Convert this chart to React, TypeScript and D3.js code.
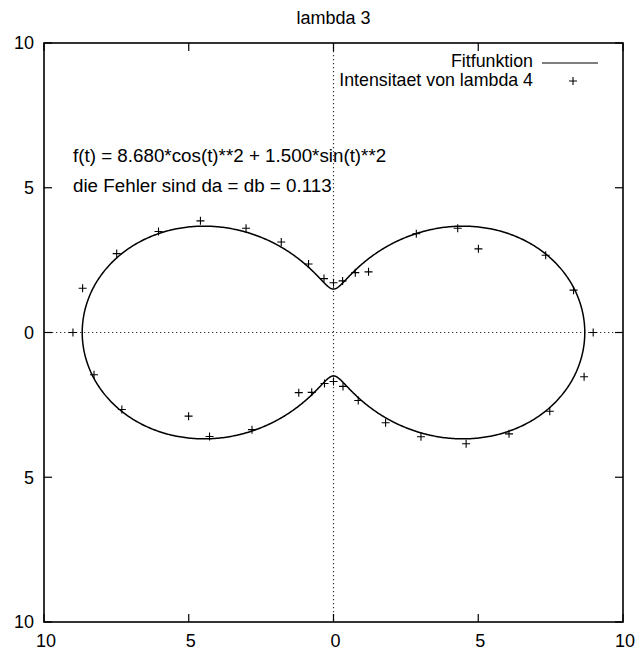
import React from "react";
import * as d3 from "d3";

const title = "lambda 3";
const angleDeg = [
  0, 10, 20, 30, 40, 50, 60, 70, 80, 90, 100, 110, 120, 130, 140, 150, 160, 170,
  180, 190, 200, 210, 220, 230, 240, 250, 260, 270, 280, 290, 300, 310, 320, 330, 340, 350,
];
const radius = [
  8.97, 8.42, 7.8, 5.78, 5.6, 4.45, 2.42, 2.2, 1.81, 1.72, 1.89, 2.52, 3.61, 4.7, 6.0, 6.98, 7.97, 8.8,
  9.0, 8.4, 7.78, 5.78, 5.59, 4.38, 2.4, 2.2, 1.79, 1.69, 1.89, 2.5, 3.6, 4.7, 5.98, 7.0, 7.95, 8.79,
];
const fitA = 8.68;
const fitB = 1.5;
const tickValues = [-10, -5, 0, 5, 10];
const legendLabels = ["Fitfunktion", "Intensitaet von lambda 4"];
const annotations = [
  "f(t) = 8.680*cos(t)**2 + 1.500*sin(t)**2",
  "die Fehler sind da = db = 0.113",
];

export default function App() {
  const W = 639, H = 653;
  const L = 44, R = 623, T = 43, B = 622;
  const x = d3.scaleLinear().domain([-10, 10]).range([L, R]);
  const y = d3.scaleLinear().domain([-10, 10]).range([B, T]);
  const font = "'Liberation Sans', Arial, Helvetica, sans-serif";
  const fs = 18;

  const ts = d3.range(0, 1001).map((i) => (i / 1000) * 2 * Math.PI);
  const fitPts: [number, number][] = ts.map((t) => {
    const r = fitA * Math.cos(t) ** 2 + fitB * Math.sin(t) ** 2;
    return [x(r * Math.cos(t)), y(r * Math.sin(t))];
  });
  const line = d3.line();
  const pts = angleDeg.map((a, i) => {
    const t = (a * Math.PI) / 180;
    return [x(radius[i] * Math.cos(t)), y(radius[i] * Math.sin(t))];
  });
  const tl = 8;
  const plus = (cx: number, cy: number, k: string) => (
    <path key={k} d={`M${cx - 4},${cy}H${cx + 4}M${cx},${cy - 4}V${cy + 4}`} stroke="#000" strokeWidth={1.1} fill="none" />
  );

  return (
    <svg width={W} height={H} style={{ position: "absolute", left: 0, top: 0, background: "#fff" }} fontFamily={font} fontSize={fs}>
      <rect x={0} y={0} width={W} height={H} fill="#fff" />
      <text x={x(0)} y={24} textAnchor="middle">{title}</text>
      {/* zero axes */}
      <line x1={L} x2={R} y1={y(0)} y2={y(0)} stroke="#333" strokeWidth={1.2} strokeDasharray="1.3,2.7" />
      <line x1={x(0)} x2={x(0)} y1={T} y2={B} stroke="#333" strokeWidth={1.2} strokeDasharray="1.3,2.7" />
      {/* ticks */}
      {tickValues.map((v) => (
        <g key={"t" + v}>
          <line x1={x(v)} x2={x(v)} y1={B} y2={B - tl} stroke="#000" strokeWidth={1.2} />
          <line x1={x(v)} x2={x(v)} y1={T} y2={T + tl} stroke="#000" strokeWidth={1.2} />
          <line x1={L} x2={L + tl} y1={y(v)} y2={y(v)} stroke="#000" strokeWidth={1.2} />
          <line x1={R} x2={R - tl} y1={y(v)} y2={y(v)} stroke="#000" strokeWidth={1.2} />
          <text x={L - 10} y={y(v)} dy="0.36em" textAnchor="end">{Math.abs(v)}</text>
          <text x={x(v) + 2} y={B + 25} textAnchor="middle">{Math.abs(v)}</text>
        </g>
      ))}
      {/* fit curve */}
      <path d={line(fitPts) || ""} fill="none" stroke="#000" strokeWidth={1.5} />
      {/* data points */}
      {pts.map((p, i) => plus(p[0], p[1], "p" + i))}
      {/* frame */}
      <rect x={L} y={T} width={R - L} height={B - T} fill="none" stroke="#000" strokeWidth={1.6} />
      {/* legend */}
      <text x={533} y={66.5} textAnchor="end" fontSize={17.8}>{legendLabels[0]}</text>
      <line x1={542} x2={598} y1={63} y2={63} stroke="#000" strokeWidth={1.2} />
      <text x={533} y={86} textAnchor="end" fontSize={17.8}>{legendLabels[1]}</text>
      {plus(573, 81, "leg")}
      {/* annotations */}
      <text x={73} y={162} fontSize={18.8}>{annotations[0]}</text>
      <text x={73} y={192} fontSize={18.8}>{annotations[1]}</text>
    </svg>
  );
}
